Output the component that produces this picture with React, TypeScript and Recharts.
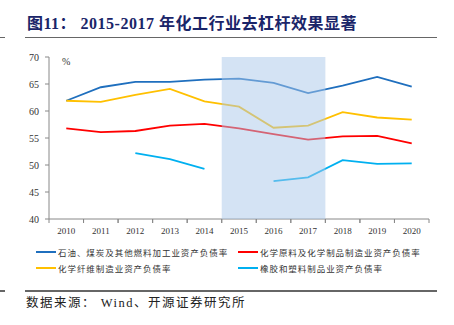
import React from 'react'
import { LineChart, Line, XAxis, YAxis, ReferenceArea } from 'recharts'

const years = ['2010', '2011', '2012', '2013', '2014', '2015', '2016', '2017', '2018', '2019', '2020']
const petroleumRatio = [61.9, 64.4, 65.4, 65.4, 65.8, 66.0, 65.2, 63.3, 64.7, 66.3, 64.5]
const chemMaterialRatio = [56.8, 56.1, 56.3, 57.3, 57.6, 56.8, 55.7, 54.7, 55.3, 55.4, 54.0]
const chemFiberRatio = [61.9, 61.7, 63.0, 64.1, 61.8, 60.8, 56.9, 57.3, 59.8, 58.8, 58.4]
const rubberRatio = [null, null, 52.2, 51.1, 49.3, null, 47.0, 47.7, 50.9, 50.2, 50.3]
const yTicks = [40, 45, 50, 55, 60, 65, 70]
const seriesNames = [
  '石油、煤炭及其他燃料加工业资产负债率',
  '化学原料及化学制品制造业资产负债率',
  '化学纤维制造业资产负债率',
  '橡胶和塑料制品业资产负债率'
]
const seriesColors = ['#1f6fbe', '#ff0000', '#ffc000', '#00b0f0']

const chartData = years.map((year, i) => ({
  year,
  petroleum: petroleumRatio[i],
  chemMaterial: chemMaterialRatio[i],
  chemFiber: chemFiberRatio[i],
  rubber: rubberRatio[i]
}))

const styles = {
  page: {
    position: 'absolute' as 'absolute',
    left: 0,
    top: 0,
    width: 454,
    height: 325,
    background: '#fff',
    overflow: 'hidden'
  },
  title: {
    position: 'absolute' as 'absolute',
    left: 27,
    top: 14,
    fontFamily: '"Liberation Serif", "Noto Sans CJK SC", serif',
    fontWeight: 'bold' as 'bold',
    fontSize: 16,
    letterSpacing: 0.5,
    color: '#1a2569',
    whiteSpace: 'nowrap' as 'nowrap',
    lineHeight: '20px'
  },
  rule: {
    position: 'absolute' as 'absolute',
    height: 1,
    background: '#666'
  },
  percent: {
    position: 'absolute' as 'absolute',
    left: 62,
    top: 56,
    fontFamily: '"Liberation Serif", serif',
    fontSize: 10,
    color: '#333'
  },
  legendText: {
    position: 'absolute' as 'absolute',
    fontFamily: '"Noto Sans CJK SC", sans-serif',
    fontSize: 8.5,
    letterSpacing: 0.95,
    color: '#333',
    whiteSpace: 'nowrap' as 'nowrap',
    lineHeight: '12px'
  },
  source: {
    position: 'absolute' as 'absolute',
    left: 26,
    top: 295,
    fontFamily: '"Liberation Serif", "Noto Sans CJK SC", serif',
    fontSize: 12.5,
    letterSpacing: 1.5,
    color: '#222',
    whiteSpace: 'nowrap' as 'nowrap',
    lineHeight: '16px'
  }
}

const YearTick = (props: any) => {
  const { x, y, payload } = props
  const half = payload.offset || 0
  return (
    <g>
      <line x1={x - half} y1={y} x2={x - half} y2={y + 4} stroke="#888" />
      <line x1={x + half} y1={y} x2={x + half} y2={y + 4} stroke="#888" />
      <text x={x} y={y + 15} textAnchor="middle" fontSize={9} fill="#333" fontFamily='"Liberation Serif", serif'>
        {payload.value}
      </text>
    </g>
  )
}

const legendPos = [
  { left: 36, top: 246 },
  { left: 238, top: 246 },
  { left: 36, top: 262 },
  { left: 238, top: 262 }
]

const App: React.FC = () => {
  return (
    <div style={styles.page}>
      <div style={styles.title}>图11：&nbsp;2015-2017 年化工行业去杠杆效果显著</div>
      <div style={{ ...styles.rule, left: 0, width: 5, top: 37 }} />
      <div style={{ ...styles.rule, left: 25, width: 412, top: 37 }} />

      <div style={{ position: 'absolute', left: 0, top: 40 }}>
        <LineChart
          width={454}
          height={205}
          data={chartData}
          margin={{ top: 17, right: 25, bottom: 6, left: 0 }}
        >
          <XAxis
            dataKey="year"
            scale="band"
            height={20}
            stroke="#888"
            tickLine={false}
            tickSize={0}
            tickMargin={0}
            interval={0}
            tick={<YearTick />}
          />
          <YAxis
            domain={[40, 70]}
            ticks={yTicks}
            width={49}
            stroke="#888"
            tickSize={4}
            tickMargin={6}
            interval={0}
            tick={{ fontSize: 10, fill: '#333', fontFamily: '"Liberation Serif", serif' }}
          />
          <Line dataKey="petroleum" stroke={seriesColors[0]} strokeWidth={1.8} dot={false} isAnimationActive={false} />
          <Line dataKey="chemMaterial" stroke={seriesColors[1]} strokeWidth={1.8} dot={false} isAnimationActive={false} />
          <Line dataKey="chemFiber" stroke={seriesColors[2]} strokeWidth={1.8} dot={false} isAnimationActive={false} />
          <Line dataKey="rubber" stroke={seriesColors[3]} strokeWidth={1.8} dot={false} isAnimationActive={false} />
          <ReferenceArea x1="2015" x2="2017" fill="#a9c8ea" fillOpacity={0.5} stroke="none" zIndex={1000} />
        </LineChart>
      </div>
      <div style={styles.percent}>%</div>

      {seriesNames.map((name, i) => (
        <React.Fragment key={name}>
          <div style={{ position: 'absolute', left: legendPos[i].left, top: legendPos[i].top + 5, width: 20, height: 2, background: seriesColors[i] }} />
          <div style={{ ...styles.legendText, left: legendPos[i].left + 22, top: legendPos[i].top }}>{name}</div>
        </React.Fragment>
      ))}

      <div style={{ ...styles.rule, left: 0, width: 5, top: 290, height: 1.5 }} />
      <div style={{ ...styles.rule, left: 25, width: 412, top: 290, height: 1.5 }} />
      <div style={styles.source}>数据来源：&nbsp;Wind、开源证券研究所</div>
    </div>
  )
}

export default App
